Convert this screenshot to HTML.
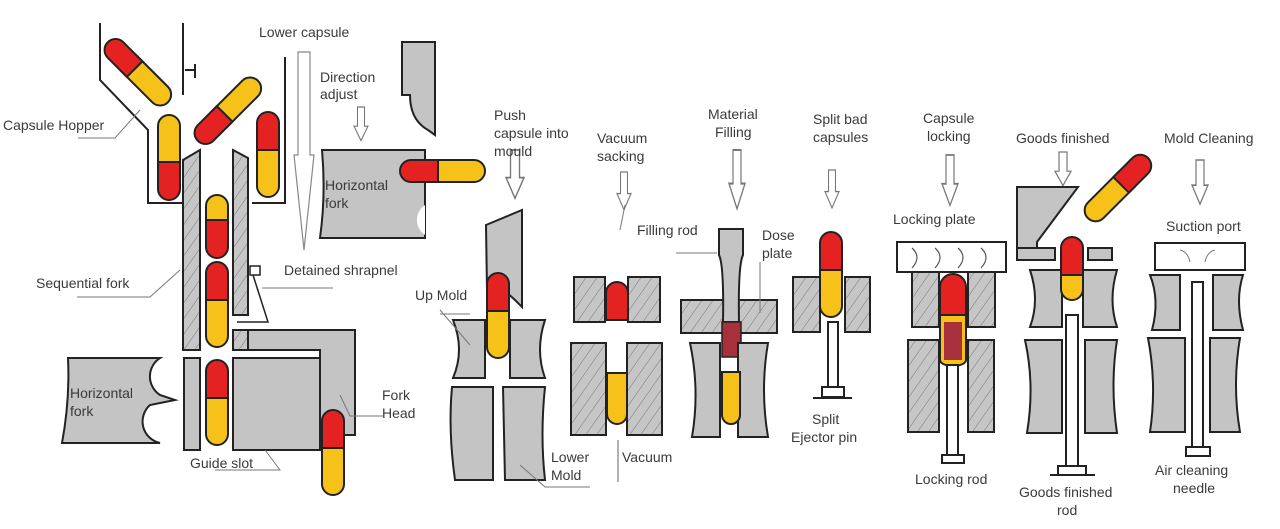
<!DOCTYPE html>
<html><head><meta charset="utf-8"><style>
html,body{margin:0;padding:0;background:#fff;}
svg{display:block}
text{font-family:"Liberation Sans",sans-serif;font-size:14px;fill:#3a3a3a}
</style></head><body>
<svg width="1280" height="529" viewBox="0 0 1280 529" xmlns="http://www.w3.org/2000/svg">
<defs>
<pattern id="h" width="9" height="9" patternUnits="userSpaceOnUse" patternTransform="rotate(35)">
<rect width="9" height="9" fill="#c6c6c6"/><line x1="0" y1="0" x2="0" y2="9" stroke="#777" stroke-width="1"/></pattern>
<g id="cap">
<path d="M0,30 V74 A11,11 0 0 0 22,74 V30 Z" fill="#f6c21a" stroke="#222" stroke-width="2"/>
<path d="M0,38 V11 A11,11 0 0 1 22,11 V38 Z" fill="#e52222" stroke="#222" stroke-width="2"/>
</g>
<g id="capS">
<path d="M0,30 V52 A11,11 0 0 0 22,52 V30 Z" fill="#f6c21a" stroke="#222" stroke-width="2"/>
<path d="M0,38 V11 A11,11 0 0 1 22,11 V38 Z" fill="#e52222" stroke="#222" stroke-width="2"/>
</g>
<polygon id="arr" points="-5,0 5,0 5,24 10,24 0,42 -10,24 -5,24" fill="#fff" stroke="#777" stroke-width="1.5"/>
</defs>
<g stroke="#222" stroke-width="2" fill="none">
<polyline points="100,23 100,80 148,130 148,203 183,203"/>
<polyline points="252,203 285,203 285,57"/>
<line x1="183" y1="23" x2="183" y2="95"/><line x1="185" y1="70" x2="196" y2="70"/><line x1="195" y1="64" x2="195" y2="78"/>
</g>
<polygon points="183,160 200,150 200,350 183,350" fill="url(#h)" stroke="#222" stroke-width="2"/>
<polygon points="233,150 248,158 248,315 233,315" fill="url(#h)" stroke="#222" stroke-width="2"/>
<rect x="233" y="330" width="15" height="20" fill="url(#h)" stroke="#222" stroke-width="2"/>
<path d="M248,330 H355 V435 H320 V350 H248 Z" fill="#c4c4c4" stroke="#222" stroke-width="2"/>
<rect x="184" y="358" width="16" height="92" fill="#c4c4c4" stroke="#222" stroke-width="2"/>
<rect x="233" y="358" width="87" height="92" fill="#c4c4c4" stroke="#222" stroke-width="2"/>
<rect x="250" y="266" width="10" height="9" fill="#fff" stroke="#222" stroke-width="1.5"/>
<polyline points="253,275 268,322 237,322" fill="none" stroke="#222" stroke-width="1.5"/>
<path d="M68,358 H160 A22,22 0 0 0 160,395 L175,400 L150,405 A22,22 0 0 0 160,443 H62 Q70,400 68,358 Z" fill="#c4c4c4" stroke="#222" stroke-width="2"/>
<path d="M322,150 H425 V238 H320 Q326,195 322,150 Z" fill="#c4c4c4" stroke="#222" stroke-width="2"/>
<path d="M425,205 A18,18 0 0 0 425,235 Z" fill="#fff"/>
<path d="M402,42 L435,42 V135 L428,130 Q410,120 410,95 H402 Z" fill="#c4c4c4" stroke="#222" stroke-width="2"/>
<use href="#cap" transform="translate(100,50) rotate(-45)"/>
<use href="#cap" transform="translate(190,133) rotate(-135) scale(-1,1)"/>
<use href="#cap" transform="translate(180,200) rotate(180)"/>
<use href="#cap" transform="translate(257,112)"/>
<use href="#capS" transform="translate(228,258) rotate(180)"/>
<use href="#cap" transform="translate(206,262)"/>
<use href="#cap" transform="translate(206,360)"/>
<use href="#cap" transform="translate(322,410)"/>
<use href="#cap" transform="translate(400,182) rotate(-90)"/>
<polygon points="298,52 310,52 310,155 314,155 304,250 294,155 298,155" fill="#fff" stroke="#888" stroke-width="1.2"/>
<use href="#arr" transform="translate(361,107) scale(0.7,0.8)"/>
<use href="#arr" transform="translate(515,150) scale(0.9,1.15)"/>
<path d="M486,225 L522,210 V307 L515,300 Q500,285 487,290 Z" fill="#c4c4c4" stroke="#222" stroke-width="2"/>
<use href="#cap" transform="translate(487,273)"/>
<path d="M453,320 H485 V378 H453 Q465,350 453,320 Z" fill="#c4c4c4" stroke="#222" stroke-width="2"/>
<path d="M510,320 H545 Q535,350 545,378 H510 Z" fill="#c4c4c4" stroke="#222" stroke-width="2"/>
<path d="M452,387 H493 V480 H455 Q448,430 452,387 Z" fill="#c4c4c4" stroke="#222" stroke-width="2"/>
<path d="M503,387 H545 Q540,435 545,480 H505 Z" fill="#c4c4c4" stroke="#222" stroke-width="2"/>
<use href="#arr" transform="translate(624,172) scale(0.7,0.9)"/>
<rect x="574" y="277" width="31" height="45" fill="url(#h)" stroke="#222" stroke-width="2"/>
<rect x="628" y="277" width="32" height="45" fill="url(#h)" stroke="#222" stroke-width="2"/>
<path d="M606,320 V293 A11,11 0 0 1 628,293 V320 Z" fill="#e52222" stroke="#222" stroke-width="2"/>
<rect x="571" y="343" width="35" height="92" fill="url(#h)" stroke="#222" stroke-width="2"/>
<rect x="627" y="343" width="35" height="92" fill="url(#h)" stroke="#222" stroke-width="2"/>
<path d="M607,373 V414 A10,10 0 0 0 627,414 V373 Z" fill="#f6c21a" stroke="#222" stroke-width="2"/>
<line x1="618" y1="440" x2="618" y2="482" stroke="#666" stroke-width="1"/>
<use href="#arr" transform="translate(737,150) scale(0.8,1.4)"/>
<rect x="681" y="300" width="96" height="33" fill="url(#h)" stroke="#222" stroke-width="2"/>
<path d="M719,229 H743 V255 Q738,265 739,322 H723 Q724,265 719,255 Z" fill="#c4c4c4" stroke="#222" stroke-width="2"/>
<rect x="722" y="322" width="19" height="35" fill="#a8303c" stroke="#222" stroke-width="1.5"/>
<path d="M690,343 H720 V437 H692 Q700,390 690,343 Z" fill="#c4c4c4" stroke="#222" stroke-width="2"/>
<path d="M738,343 H768 Q760,390 768,437 H738 Z" fill="#c4c4c4" stroke="#222" stroke-width="2"/>
<path d="M722,372 V415 A9,9 0 0 0 740,415 V372 Z" fill="#f6c21a" stroke="#222" stroke-width="2"/>
<use href="#arr" transform="translate(832,170) scale(0.7,0.9)"/>
<use href="#cap" transform="translate(820,232)"/>
<rect x="793" y="277" width="27" height="55" fill="url(#h)" stroke="#222" stroke-width="2"/>
<rect x="845" y="277" width="25" height="55" fill="url(#h)" stroke="#222" stroke-width="2"/>
<rect x="828" y="322" width="10" height="65" fill="#fff" stroke="#222" stroke-width="2"/>
<rect x="822" y="387" width="22" height="10" fill="#fff" stroke="#222" stroke-width="2"/>
<line x1="813" y1="398" x2="852" y2="398" stroke="#222" stroke-width="2"/>
<use href="#arr" transform="translate(950,155) scale(0.8,1.2)"/>
<rect x="897" y="242" width="109" height="30" fill="#fff" stroke="#222" stroke-width="2"/>
<g fill="none" stroke="#555" stroke-width="1.2">
<path d="M912,248 Q922,257 912,268"/><path d="M935,248 Q945,257 935,268"/><path d="M958,248 Q968,257 958,268"/><path d="M981,248 Q991,257 981,268"/>
</g>
<rect x="912" y="272" width="27" height="55" fill="url(#h)" stroke="#222" stroke-width="2"/>
<rect x="968" y="272" width="27" height="55" fill="url(#h)" stroke="#222" stroke-width="2"/>
<rect x="908" y="340" width="31" height="92" fill="url(#h)" stroke="#222" stroke-width="2"/>
<rect x="968" y="340" width="26" height="92" fill="url(#h)" stroke="#222" stroke-width="2"/>
<path d="M940,315 V360 A13,6 0 0 0 966,360 V315 Z" fill="#f6c21a" stroke="#222" stroke-width="2"/>
<rect x="944" y="322" width="18" height="38" fill="#a8303c"/>
<path d="M940,315 V287 A13,13 0 0 1 966,287 V315 Z" fill="#e52222" stroke="#222" stroke-width="2"/>
<rect x="947" y="365" width="11" height="92" fill="#fff" stroke="#222" stroke-width="2"/>
<rect x="942" y="455" width="22" height="8" fill="#fff" stroke="#222" stroke-width="2"/>
<use href="#arr" transform="translate(1063,152) scale(0.8,0.8)"/>
<polygon points="1017,187 1078,187 1037,242 1037,248 1017,248" fill="#c4c4c4" stroke="#222" stroke-width="2"/>
<rect x="1017" y="248" width="38" height="12" fill="#c4c4c4" stroke="#222" stroke-width="2"/>
<rect x="1088" y="248" width="24" height="12" fill="#c4c4c4" stroke="#222" stroke-width="2"/>
<use href="#cap" transform="translate(1148,158) rotate(45) translate(-11,0)"/>
<path d="M1030,270 H1062 V327 H1030 Q1040,300 1030,270 Z" fill="#c4c4c4" stroke="#222" stroke-width="2"/>
<path d="M1083,270 H1117 Q1108,300 1117,327 H1083 Z" fill="#c4c4c4" stroke="#222" stroke-width="2"/>
<path d="M1025,340 H1062 V433 H1027 Q1035,385 1025,340 Z" fill="#c4c4c4" stroke="#222" stroke-width="2"/>
<path d="M1085,340 H1117 Q1110,385 1117,433 H1085 Z" fill="#c4c4c4" stroke="#222" stroke-width="2"/>
<rect x="1066" y="315" width="12" height="153" fill="#fff" stroke="#222" stroke-width="2"/>
<use href="#capS" transform="translate(1061,237)"/>
<rect x="1058" y="466" width="28" height="9" fill="#fff" stroke="#222" stroke-width="2"/>
<line x1="1050" y1="475" x2="1095" y2="475" stroke="#222" stroke-width="2"/>
<use href="#arr" transform="translate(1200,160) scale(0.8,1.05)"/>
<rect x="1155" y="243" width="90" height="27" fill="#fff" stroke="#222" stroke-width="2"/>
<path d="M1150,275 H1180 V330 H1152 Q1160,300 1150,275 Z" fill="#c4c4c4" stroke="#222" stroke-width="2"/>
<path d="M1213,275 H1243 Q1235,300 1243,330 H1213 Z" fill="#c4c4c4" stroke="#222" stroke-width="2"/>
<path d="M1148,338 H1185 V432 H1150 Q1157,385 1148,338 Z" fill="#c4c4c4" stroke="#222" stroke-width="2"/>
<path d="M1210,338 H1240 Q1232,385 1240,432 H1210 Z" fill="#c4c4c4" stroke="#222" stroke-width="2"/>
<rect x="1192" y="282" width="11" height="166" fill="#fff" stroke="#222" stroke-width="2"/>
<rect x="1186" y="447" width="24" height="9" fill="#fff" stroke="#222" stroke-width="2"/>
<g stroke="#777" stroke-width="1" fill="none">
<polyline points="78,138 115,138 140,110"/>
<polyline points="77,297 150,297 180,270"/>
<polyline points="262,288 290,288 333,288"/>
<polyline points="215,470 280,470 265,450"/>
<polyline points="383,416 350,416 340,395"/>
<polyline points="440,314 470,314"/><polyline points="440,310 470,345"/>
<polyline points="590,487 545,487 520,465"/>
<polyline points="625,205 620,230"/>
<line x1="676" y1="253" x2="717" y2="253"/>
<line x1="760" y1="262" x2="760" y2="313"/>
<path d="M1190,262 Q1188,252 1180,250"/><path d="M1205,262 Q1207,252 1215,250"/>
</g>
<text x="259" y="37">Lower capsule</text>
<text x="3" y="130">Capsule Hopper</text>
<text x="320" y="82">Direction</text><text x="320" y="99">adjust</text>
<text x="325" y="190">Horizontal</text><text x="325" y="208">fork</text>
<text x="36" y="288">Sequential fork</text>
<text x="284" y="275">Detained shrapnel</text>
<text x="70" y="398">Horizontal</text><text x="70" y="416">fork</text>
<text x="382" y="400">Fork</text><text x="382" y="418">Head</text>
<text x="190" y="468">Guide slot</text>
<text x="494" y="120">Push</text><text x="494" y="138">capsule into</text><text x="494" y="156">mould</text>
<text x="415" y="300">Up  Mold</text>
<text x="551" y="462">Lower</text><text x="551" y="480">Mold</text>
<text x="622" y="462">Vacuum</text>
<text x="597" y="143">Vacuum</text><text x="597" y="161">sacking</text>
<text x="637" y="235">Filling rod</text>
<text x="708" y="119">Material</text><text x="715" y="137">Filling</text>
<text x="762" y="240">Dose</text><text x="762" y="258">plate</text>
<text x="813" y="124">Split bad</text><text x="813" y="142">capsules</text>
<text x="812" y="424">Split</text><text x="791" y="442">Ejector pin</text>
<text x="923" y="123">Capsule</text><text x="927" y="141">locking</text>
<text x="893" y="224">Locking plate</text>
<text x="915" y="484">Locking rod</text>
<text x="1016" y="143">Goods finished</text>
<text x="1019" y="497">Goods finished</text><text x="1057" y="515">rod</text>
<text x="1164" y="143">Mold Cleaning</text>
<text x="1166" y="231">Suction port</text>
<text x="1155" y="475">Air cleaning</text><text x="1173" y="493">needle</text>
</svg>
</body></html>
